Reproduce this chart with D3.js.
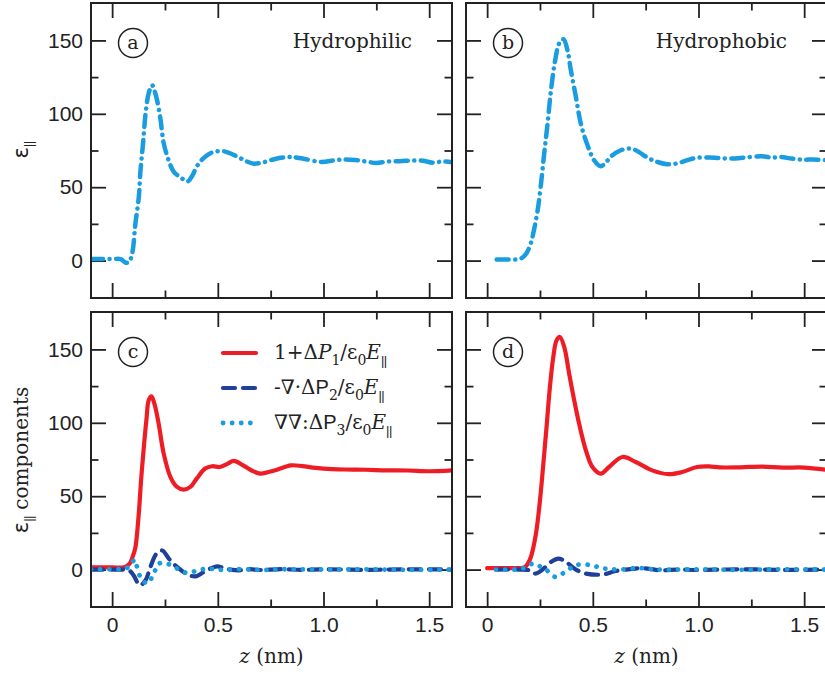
<!DOCTYPE html>
<html lang="en">
  <head>
    <meta charset="utf-8">
    <title>Parallel dielectric profile</title>
    <script type="text/javascript" src="https://d3js.org/d3.v7.min.js" charset="utf-8"></script>
    <style type="text/css">
      body { margin: 0; background: #fff; }
      .axis path { display: none; }
      .axis line { stroke: #222; stroke-width: 1.8; }
      .axis text {
        font-family: "Liberation Sans", Arial, sans-serif;
        font-size: 21px;
        fill: #222;
      }
      .serif { font-family: "DejaVu Serif", serif; fill: #222; }
    </style>
  </head>
  <body>
<script type="text/javascript">

// z (nm) and eps values
// (a) hydrophilic, total eps_par
var zA   = [-0.1, 0.0, 0.04, 0.065, 0.08, 0.095, 0.11, 0.126, 0.134, 0.147, 0.158, 0.173, 0.189, 0.2, 0.213, 0.229, 0.244, 0.268, 0.292, 0.33, 0.358, 0.38, 0.40, 0.434, 0.48, 0.53, 0.59, 0.63, 0.67, 0.71, 0.75, 0.8, 0.84, 0.9, 0.99, 1.05, 1.09, 1.15, 1.2, 1.25, 1.3, 1.36, 1.42, 1.47, 1.52, 1.56, 1.608];
var epsA = [1, 1, 1, -1.5, -1, 5, 25, 43, 61, 81, 100, 114, 119.5, 116, 109, 96, 80, 68, 60.5, 56, 54, 58, 64, 70, 74, 74.4, 71, 68, 66, 66.8, 68.4, 70, 70.6, 69.5, 67.2, 68.3, 68.8, 68.5, 67.5, 66.5, 67.5, 67.7, 68.2, 68, 66.7, 67.5, 67];

// (b) hydrophobic, total eps_par
var zB   = [0.045, 0.1, 0.152, 0.175, 0.19, 0.205, 0.218, 0.239, 0.255, 0.27, 0.286, 0.302, 0.322, 0.341, 0.361, 0.38, 0.396, 0.42, 0.443, 0.475, 0.506, 0.538, 0.565, 0.593, 0.63, 0.671, 0.703, 0.766, 0.81, 0.852, 0.89, 0.923, 0.96, 0.993, 1.05, 1.1, 1.16, 1.22, 1.3, 1.35, 1.39, 1.44, 1.49, 1.54, 1.608];
var epsB = [0.7, 0.7, 1, 3, 6, 11, 18.4, 34.3, 52.5, 73, 93.4, 116, 136.5, 148, 150.8, 143.4, 129.7, 111.5, 93.4, 78.6, 68.4, 64.3, 67.5, 71.8, 75, 76.3, 75.2, 69.5, 67, 65.6, 66, 67.2, 69, 70, 70.3, 69.8, 69.5, 70.2, 71, 70.2, 70.6, 69.5, 68.8, 68.8, 68.4];

// (c) hydrophilic components
var zC1 = [-0.1, 0.0, 0.055, 0.075, 0.087, 0.1, 0.11, 0.126, 0.137, 0.15, 0.162, 0.173, 0.186, 0.2, 0.22, 0.244, 0.276, 0.307, 0.339, 0.37, 0.40, 0.44, 0.473, 0.51, 0.545, 0.575, 0.62, 0.66, 0.70, 0.74, 0.78, 0.845, 0.9, 0.95, 1.0, 1.1, 1.2, 1.3, 1.4, 1.5, 1.608];
var p1C = [1.5, 1.5, 1.5, 3, 5, 10, 15, 38, 61, 83.5, 101.7, 115.3, 118, 113, 99.5, 79, 63, 56.3, 54.5, 56.3, 62, 68.8, 70.4, 69.9, 72, 74, 71, 67.5, 65.4, 66.5, 68, 71, 70.5, 69.5, 68.8, 68.2, 68, 67.6, 67.5, 67, 67.6];
var zC2 = [-0.1, 0.05, 0.07, 0.085, 0.102, 0.131, 0.158, 0.181, 0.21, 0.237, 0.268, 0.307, 0.355, 0.394, 0.434, 0.47, 0.497, 0.53, 0.56, 0.6, 0.65, 0.7, 0.8, 0.9, 1.0, 1.2, 1.4, 1.608];
var p2C = [0, 0, 0, -1, -4, -10.7, -7.3, 1.8, 10.9, 13, 7.5, 1.8, -3.2, -4.6, -1.6, 1, 2.2, 1, 0, -0.5, 0.3, -0.3, 0.3, -0.2, 0.2, -0.2, 0.2, 0];
var zC3 = [-0.1, 0.05, 0.075, 0.095, 0.105, 0.115, 0.134, 0.166, 0.197, 0.22, 0.26, 0.307, 0.355, 0.418, 0.47, 0.528, 0.6, 0.7, 0.8, 1.0, 1.2, 1.4, 1.608];
var p3C = [0.3, 0.5, 1.5, 4.5, 6.8, 3, -5, -9.5, -2.7, 4, 4, 0.7, -2.3, 0, 0.5, -0.3, 0.3, -0.3, 0.2, 0, 0.2, -0.2, 0];

// (d) hydrophobic components
var zD1 = [0.0, 0.1, 0.176, 0.19, 0.207, 0.231, 0.25, 0.266, 0.281, 0.297, 0.313, 0.328, 0.344, 0.365, 0.388, 0.412, 0.435, 0.467, 0.498, 0.538, 0.577, 0.64, 0.703, 0.781, 0.86, 0.923, 0.993, 1.05, 1.1, 1.2, 1.3, 1.4, 1.5, 1.608];
var p1D = [1, 1, 1.5, 3.5, 8.6, 24.5, 47.2, 72.2, 97, 124.4, 144.8, 156, 158.5, 151.6, 133.5, 115.3, 99.5, 81.3, 69.9, 65.4, 69.9, 76.7, 73.3, 67.6, 65, 66.5, 69.9, 70.3, 69.6, 69.7, 70.2, 69.5, 69.5, 68];
var zD2 = [0.042, 0.15, 0.2, 0.215, 0.231, 0.262, 0.302, 0.338, 0.373, 0.42, 0.467, 0.545, 0.608, 0.687, 0.734, 0.82, 0.9, 1.0, 1.2, 1.4, 1.608];
var p2D = [0, 0, -0.5, -2, -2.7, 0, 5.2, 7.5, 5.2, 0, -2.7, -3.4, -1, 0.5, 1, -0.5, 0, -0.3, 0.2, -0.2, 0];
var zD3 = [0.042, 0.15, 0.19, 0.215, 0.245, 0.278, 0.322, 0.373, 0.42, 0.483, 0.545, 0.62, 0.718, 0.8, 1.0, 1.2, 1.4, 1.608];
var p3D = [0, 0.3, 2, 4, 2.5, 0, -5, -1.2, 3, 3.2, 1, 0, 1, 0, 0.2, -0.2, 0.2, 0];

// axis ticks
var xMajor = [0, 0.5, 1.0, 1.5];
var xMinor = [0.25, 0.75, 1.25];
var yMajor = [0, 50, 100, 150];
var yMinor = [25, 75, 125];

var lightBlue = "#1a9de0", red = "#ee1d25", darkBlue = "#1f3f98";

var pw = 361, ph = 295;
var svg = d3.select("body").append("svg")
    .attr("width", 825)
    .attr("height", 678);

function pairs(zs, vs) { return zs.map((z, i) => [z, vs[i]]); }

var styles = {
  dashdot: {color: lightBlue, width: 4.5, dash: "12,6.5,0.1,6.5"},
  solid:   {color: red, width: 4.2, dash: null},
  dashed:  {color: darkBlue, width: 4.2, dash: "12,8"},
  dotted:  {color: lightBlue, width: 4.8, dash: "0.1,9"}
};

var panels = [
  {id: "a", left: 91,  top: 3,   xlab: false, ylab: true,  title: "Hydrophilic", series: [[pairs(zA, epsA), "dashdot"]]},
  {id: "b", left: 466, top: 3,   xlab: false, ylab: false, title: "Hydrophobic", series: [[pairs(zB, epsB), "dashdot"]]},
  {id: "c", left: 91,  top: 312, xlab: true,  ylab: true,  title: null,
   series: [[pairs(zC1, p1C), "solid"], [pairs(zC2, p2C), "dashed"], [pairs(zC3, p3C), "dotted"]]},
  {id: "d", left: 466, top: 312, xlab: true,  ylab: false, title: null,
   series: [[pairs(zD1, p1D), "solid"], [pairs(zD2, p2D), "dashed"], [pairs(zD3, p3D), "dotted"]]}
];

var fmtX = d => d === 0 ? "0" : d.toFixed(1);

// the parallel sign as a small two-bar subscript
function parSub(t, dy) {
  return t.append("tspan").attr("font-family", "Liberation Sans").attr("font-size", 13)
    .attr("letter-spacing", -0.5).attr("dy", dy).text("||");
}

panels.forEach(function(p) {
  var x = d3.scaleLinear().domain([-0.1, 1.608]).range([p.left, p.left + pw]);
  var y = d3.scaleLinear().domain([-25.5, 175.5]).range([p.top + ph, p.top]);
  var g = svg.append("g");

  g.append("clipPath").attr("id", "clip" + p.id)
    .append("rect").attr("x", p.left).attr("y", p.top).attr("width", pw).attr("height", ph);

  // ticks, inward on all four sides
  var bottom = p.top + ph, right = p.left + pw;
  g.append("g").attr("class", "axis").attr("transform", `translate(0,${bottom})`)
    .call(d3.axisBottom(x).tickValues(xMajor).tickSize(-15).tickPadding(10).tickFormat(p.xlab ? fmtX : ""));
  g.append("g").attr("class", "axis").attr("transform", `translate(0,${bottom})`)
    .call(d3.axisBottom(x).tickValues(xMinor).tickSize(-7.5).tickFormat(""));
  g.append("g").attr("class", "axis").attr("transform", `translate(0,${p.top})`)
    .call(d3.axisTop(x).tickValues(xMajor).tickSize(-15).tickFormat(""));
  g.append("g").attr("class", "axis").attr("transform", `translate(0,${p.top})`)
    .call(d3.axisTop(x).tickValues(xMinor).tickSize(-7.5).tickFormat(""));
  g.append("g").attr("class", "axis").attr("transform", `translate(${p.left},0)`)
    .call(d3.axisLeft(y).tickValues(yMajor).tickSize(-15).tickPadding(8).tickFormat(p.ylab ? d3.format("d") : ""));
  g.append("g").attr("class", "axis").attr("transform", `translate(${p.left},0)`)
    .call(d3.axisLeft(y).tickValues(yMinor).tickSize(-7.5).tickFormat(""));
  g.append("g").attr("class", "axis").attr("transform", `translate(${right},0)`)
    .call(d3.axisRight(y).tickValues(yMajor).tickSize(-15).tickFormat(""));
  g.append("g").attr("class", "axis").attr("transform", `translate(${right},0)`)
    .call(d3.axisRight(y).tickValues(yMinor).tickSize(-7.5).tickFormat(""));

  var line = d3.line().x(d => x(d[0])).y(d => y(d[1])).curve(d3.curveCatmullRom.alpha(0.5));
  var lines = g.append("g").attr("clip-path", `url(#clip${p.id})`);
  p.series.forEach(function(s) {
    var st = styles[s[1]];
    lines.append("path")
      .attr("d", line(s[0]))
      .attr("fill", "none")
      .attr("stroke", st.color)
      .attr("stroke-width", st.width)
      .attr("stroke-linecap", "round")
      .attr("stroke-linejoin", "round")
      .attr("stroke-dasharray", st.dash);
  });

  // frame
  g.append("rect").attr("x", p.left).attr("y", p.top).attr("width", pw).attr("height", ph)
    .attr("fill", "none").attr("stroke", "#222").attr("stroke-width", 2);

  // circled letter
  var cx = p.left + 42, cy = p.top + 40;
  g.append("circle").attr("cx", cx).attr("cy", cy).attr("r", 14.5)
    .attr("fill", "none").attr("stroke", "#222").attr("stroke-width", 1.5);
  g.append("text").attr("class", "serif").attr("x", cx).attr("y", cy + 6)
    .attr("text-anchor", "middle").attr("font-size", 19).attr("font-weight", 300).text(p.id);

  if (p.title) {
    g.append("text").attr("class", "serif").attr("x", p.left + 321).attr("y", p.top + 45)
      .attr("text-anchor", "end").attr("font-size", 20).text(p.title);
  }
  if (p.xlab) {
    var t = g.append("text").attr("class", "serif").attr("x", p.left + pw / 2).attr("y", 663)
      .attr("text-anchor", "middle").attr("font-size", 20);
    t.append("tspan").attr("font-style", "italic").text("z");
    t.append("tspan").text(" (nm)");
  }
});

// rotated y labels
function yLabel(cy, extra) {
  var t = svg.append("text").attr("class", "serif")
    .attr("transform", `translate(28,${cy}) rotate(-90)`)
    .attr("text-anchor", "middle").attr("font-size", 20);
  t.append("tspan").attr("font-family", "DejaVu Sans").attr("font-size", 21).text("ε");
  parSub(t, 5);
  if (extra) t.append("tspan").attr("dy", -5).text(" " + extra);
}
yLabel(150, null);
yLabel(460, "components");

// legend in panel c
var legendY = [353, 388, 423];
var legendStyles = ["solid", "dashed", "dotted"];
var legendText = [
  [["1+Δ"], ["P", "i"], ["1", "s"], ["/ε"], ["0", "s"], ["E", "i"], ["∥", "s"]],
  [["-∇·Δ"], ["P", "sans"], ["2", "s"], ["/ε"], ["0", "s"], ["E", "i"], ["∥", "s"]],
  [["∇∇:Δ"], ["P", "sans"], ["3", "s"], ["/ε"], ["0", "s"], ["E", "i"], ["∥", "s"]]
];
legendY.forEach(function(ly, i) {
  var st = styles[legendStyles[i]];
  svg.append("line").attr("x1", 223).attr("x2", 256).attr("y1", ly).attr("y2", ly)
    .attr("stroke", st.color).attr("stroke-width", st.width)
    .attr("stroke-linecap", "round").attr("stroke-dasharray", st.dash);
  var t = svg.append("text").attr("class", "serif").attr("x", 274).attr("y", ly + 6)
    .attr("font-size", 20);
  var down = false;
  legendText[i].forEach(function(part) {
    var dy = 0;
    if (part[1] === "s") { dy = down ? 0 : 6; down = true; }
    else { dy = down ? -6 : 0; down = false; }
    if (part[0] === "∥") { parSub(t, dy); return; }
    var ts = t.append("tspan").attr("dy", dy).text(part[0]);
    if (part[1] === "s") ts.attr("font-size", 14);
    if (part[1] === "i") ts.attr("font-style", "italic");
    if (part[1] === "sans") ts.attr("font-family", "Liberation Sans").attr("font-size", 20);
  });
});

</script>
  </body>
</html>
